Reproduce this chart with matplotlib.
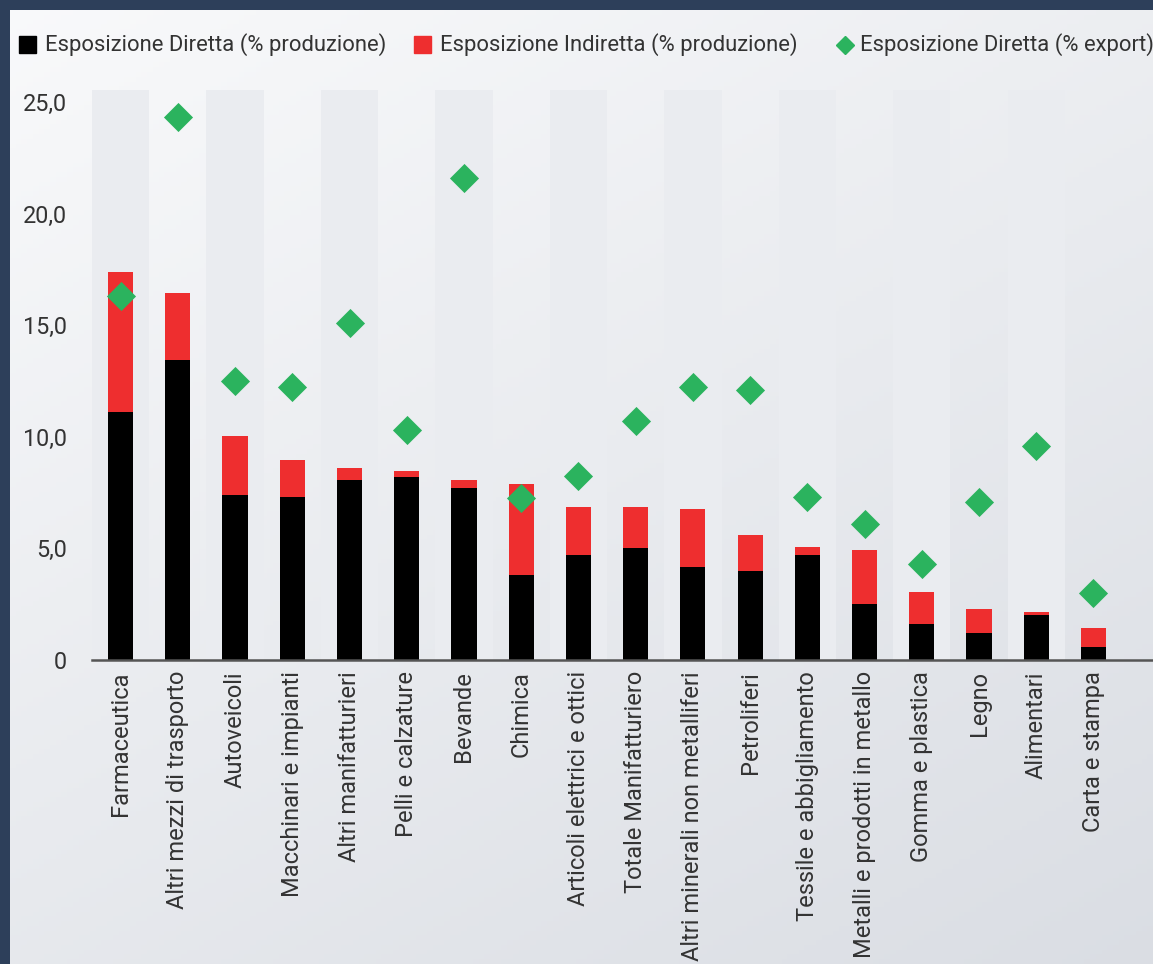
import numpy as np
import matplotlib
matplotlib.use("Agg")
import matplotlib.pyplot as plt
from matplotlib.patches import Rectangle

plt.rcParams['font.family'] = ['Roboto', 'DejaVu Sans']

categories = ["Farmaceutica", "Altri mezzi di trasporto", "Autoveicoli",
              "Macchinari e impianti", "Altri manifatturieri", "Pelli e calzature",
              "Bevande", "Chimica", "Articoli elettrici e ottici",
              "Totale Manifatturiero", "Altri minerali non metalliferi", "Petroliferi",
              "Tessile e abbigliamento", "Metalli e prodotti in metallo",
              "Gomma e plastica", "Legno", "Alimentari", "Carta e stampa"]
diretta = [11.1, 13.45, 7.4, 7.3, 8.05, 8.2, 7.7, 3.8, 4.7, 5.0, 4.15, 4.0, 4.7, 2.5, 1.6, 1.2, 2.0, 0.6]
totale = [17.4, 16.45, 10.05, 8.95, 8.6, 8.45, 8.05, 7.9, 6.85, 6.85, 6.75, 5.6, 5.05, 4.95, 3.05, 2.3, 2.15, 1.45]
indiretta = [t - d for t, d in zip(totale, diretta)]
export = [16.3, 24.35, 12.5, 12.25, 15.1, 10.3, 21.6, 7.25, 8.25, 10.7, 12.25, 12.1, 7.3, 6.1, 4.3, 7.1, 9.6, 3.0]
yticks = [0, 5, 10, 15, 20, 25]
ytick_labels = ["0", "5,0", "10,0", "15,0", "20,0", "25,0"]

W, H = 1153, 964
fig = plt.figure(figsize=(W / 100, H / 100), dpi=100)
fig.patch.set_facecolor('#2d3f5a')

# background panel with soft gradient, pixel coords
bg = fig.add_axes([0, 0, 1, 1])
bg.set_xlim(0, W)
bg.set_ylim(H, 0)
bg.axis('off')
gx, gy = np.meshgrid(np.linspace(0, 1, 200), np.linspace(0, 1, 200))
grad = 0.6 * gy + 0.4 * gx
c0 = np.array([0.975, 0.978, 0.984])
c1 = np.array([0.855, 0.868, 0.892])
img = c0[None, None, :] * (1 - grad[..., None]) + c1[None, None, :] * grad[..., None]
bg.imshow(img, extent=[10, W, H, 10], aspect='auto', zorder=0)

# legend drawn by hand
ly = 45
txt = '#333333'
bg.add_patch(Rectangle((19, ly - 9), 17, 17, color='black', zorder=2))
bg.text(45, ly, "Esposizione Diretta (% produzione)", va='center', ha='left',
        fontsize=15.8, color=txt, zorder=2)
bg.add_patch(Rectangle((414, ly - 9), 17, 17, color='#ee2e2f', zorder=2))
bg.text(440, ly, "Esposizione Indiretta (% produzione)", va='center', ha='left',
        fontsize=15.8, color=txt, zorder=2)
bg.plot([845], [ly], marker='D', markersize=9, color='#2bb35e', zorder=2)
bg.text(860, ly, "Esposizione Diretta (% export)", va='center', ha='left',
        fontsize=15.8, color=txt, zorder=2)

ax = fig.add_axes([92 / W, (H - 660) / H, (W - 92) / W, (660 - 90) / H])
ax.patch.set_alpha(0)
x = np.arange(len(categories))
ymax = 25.55

# alternating grey bands
ax.bar(x[::2], [ymax] * len(x[::2]), width=1.0, color='#eaecf0', zorder=0)

ax.bar(x, diretta, width=0.44, color='black', zorder=2)
ax.bar(x, indiretta, width=0.44, bottom=diretta, color='#ee2e2f', zorder=2)
ax.scatter(x, export, marker='D', s=220, color='#2bb35e', zorder=3, linewidths=0)

ax.set_xlim(-0.5, 18.04)
ax.set_ylim(0, ymax)
ax.set_yticks(yticks)
ax.set_yticklabels(ytick_labels)
ax.set_xticks(x)
ax.set_xticklabels(categories, rotation=90)
ax.tick_params(axis='y', length=0, pad=18, labelsize=16.8, labelcolor=txt)
ax.tick_params(axis='x', length=0, pad=8, labelsize=17, labelcolor=txt)
for s in ['top', 'right', 'left']:
    ax.spines[s].set_visible(False)
ax.spines['bottom'].set_color('#555555')
ax.spines['bottom'].set_linewidth(1.8)
ax.spines['bottom'].set_zorder(4)

fig.savefig('out.png', dpi=100, facecolor=fig.get_facecolor())
